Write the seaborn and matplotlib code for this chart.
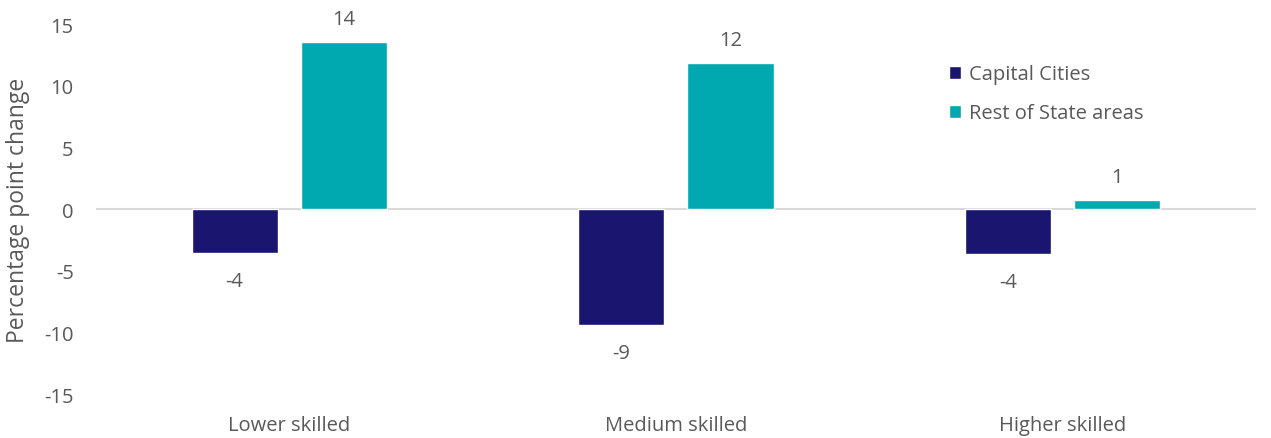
import matplotlib
matplotlib.use("Agg")
import matplotlib.pyplot as plt
import seaborn as sns
import pandas as pd

categories = ["Lower skilled", "Medium skilled", "Higher skilled"]
series = ["Capital Cities", "Rest of State areas"]
capital_vals = [-3.55, -9.37, -3.65]
rest_vals = [13.55, 11.86, 0.75]

colors = {"Capital Cities": "#1a1670", "Rest of State areas": "#00a8b0"}
text_col = "#595959"

df = pd.DataFrame({
    "category": categories * 2,
    "series": [series[0]] * 3 + [series[1]] * 3,
    "value": capital_vals + rest_vals,
})

sns.set_theme(style="white")
plt.rcParams["font.family"] = ["Open Sans", "DejaVu Sans"]
plt.rcParams["axes.unicode_minus"] = False

fig = plt.figure(figsize=(12.71, 4.39), dpi=100)
ax = fig.add_axes([0.0755, 0.1002, 0.9125, 0.8428])

sns.barplot(data=df, x="category", y="value", hue="series", order=categories,
            hue_order=series, palette=colors, width=0.565, gap=0.21,
            saturation=1, ax=ax, errorbar=None)

ax.set_ylim(-15, 15)
ax.set_xlim(-0.5, 2.5)
ax.set_yticks(range(-15, 16, 5))
for s in ax.spines.values():
    s.set_visible(False)
ax.axhline(0, color="#d9d9d9", lw=1.5, zorder=0)

ax.tick_params(axis="both", length=0, labelsize=14.5, colors=text_col)
ax.tick_params(axis="y", pad=16)
ax.tick_params(axis="x", pad=15)
ax.set_xlabel("")
ax.set_ylabel("Percentage point change", fontsize=16.5, color=text_col)
ax.yaxis.set_label_coords(-0.057, 0.5)

for cont in ax.containers:
    for bar in cont:
        v = bar.get_height()
        x = bar.get_x() + bar.get_width() / 2
        if v >= 0:
            ax.annotate(f"{round(v):.0f}", (x, v), xytext=(0, 9),
                        textcoords="offset points", ha="center", va="bottom",
                        fontsize=14.5, color=text_col)
        else:
            ax.annotate(f"{round(v):.0f}", (x, v), xytext=(0, -13),
                        textcoords="offset points", ha="center", va="top",
                        fontsize=14.5, color=text_col)

leg = ax.legend(loc="upper left", bbox_to_anchor=(0.72, 0.94), frameon=False,
                fontsize=14.5, handlelength=0.6, handleheight=0.6,
                handletextpad=0.4, labelspacing=0.95)
for t in leg.get_texts():
    t.set_color(text_col)

fig.savefig("out.png", dpi=100)
